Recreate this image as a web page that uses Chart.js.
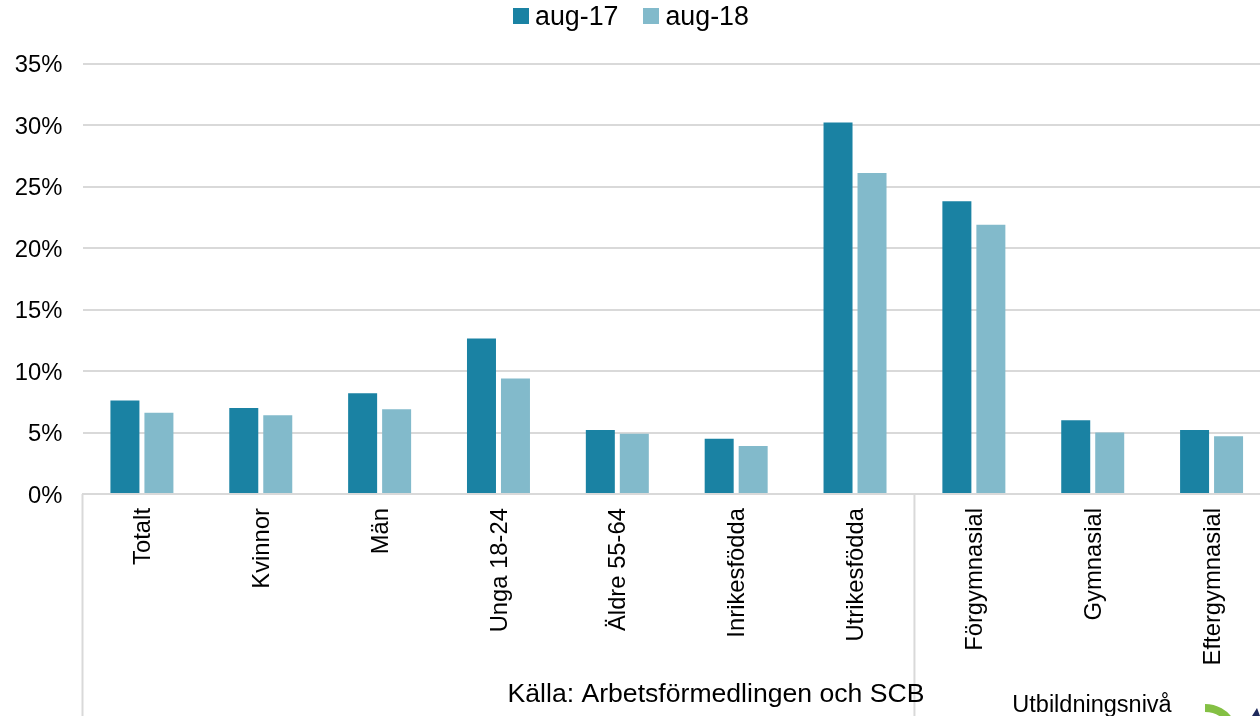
<!DOCTYPE html>
<html>
<head>
<meta charset="utf-8">
<script src="https://cdn.jsdelivr.net/npm/chart.js@4"></script>
<style>
    html, body { margin: 0; width: 1260px; height: 716px; overflow: hidden; background: #fff; }
    #wrap { position: relative; width: 1260px; height: 716px; overflow: hidden; }
    canvas { position: absolute; left: 0; top: 0; }
    #legend { position: absolute; top: 0; left: 513px; height: 32px; display: flex; align-items: center;
        font: 26.8px "Liberation Sans", Arial, sans-serif; color: #000; }
    #legend span.box { display: inline-block; width: 16px; height: 16px; margin-right: 6px; }
    #legend span.txt { margin-right: 25px; }
</style>
</head>
<body>
<div id="wrap">
    <canvas id="grafico" width="1271" height="716"></canvas>
    <div id="legend"></div>
</div>
<script>
// Data
const categorias = ['Totalt', 'Kvinnor', 'Män', 'Unga 18-24', 'Äldre 55-64', 'Inrikesfödda', 'Utrikesfödda', 'Förgymnasial', 'Gymnasial', 'Eftergymnasial'];
const aug17 = [7.6, 7.0, 8.2, 12.65, 5.2, 4.5, 30.2, 23.8, 6.0, 5.2];
const aug18 = [6.6, 6.4, 6.9, 9.4, 4.9, 3.9, 26.1, 21.9, 5.0, 4.7];
const ticksY = [0, 5, 10, 15, 20, 25, 30, 35];
const serieNomes = ['aug-17', 'aug-18'];

const corEscura = '#1a82a3';
const corClara = '#82bacb';
const corGrade = '#d9d9d9';
const familia = '"Liberation Sans", Arial, sans-serif';
const fonteEixo = { family: familia, size: 23.8 };

// Separators under the axis, source line and the cut-off logo at the bottom
const extras = {
    id: 'extras',
    afterDraw(chart) {
        const ctx = chart.ctx;
        const x = chart.scales.x;
        const passo = x.getPixelForValue(1) - x.getPixelForValue(0);
        const base = chart.scales.y.getPixelForValue(0);
        ctx.save();
        ctx.strokeStyle = corGrade;
        ctx.lineWidth = 2;
        [0, 7].forEach(i => {
            const px = x.getPixelForValue(i) - passo / 2;
            ctx.beginPath();
            ctx.moveTo(px, base);
            ctx.lineTo(px, 716);
            ctx.stroke();
        });
        ctx.fillStyle = '#000';
        ctx.textBaseline = 'alphabetic';
        ctx.textAlign = 'center';
        ctx.font = '26.6px ' + familia;
        ctx.fillText('Källa: Arbetsförmedlingen och SCB', 716, 702);
        ctx.font = '23.5px ' + familia;
        ctx.fillText('Utbildningsnivå', 1092, 712);
        // logo
        ctx.strokeStyle = '#84c044';
        ctx.lineWidth = 8;
        ctx.beginPath();
        ctx.arc(1205, 738, 30, -1.57, -0.55);
        ctx.stroke();
        ctx.fillStyle = '#1f2a5c';
        ctx.beginPath();
        ctx.moveTo(1252, 716);
        ctx.lineTo(1257, 708);
        ctx.lineTo(1260, 716);
        ctx.fill();
        ctx.restore();
    }
};

new Chart(document.getElementById('grafico'), {
    type: 'bar',
    data: {
        labels: categorias,
        datasets: [
            { label: serieNomes[0], data: aug17, backgroundColor: corEscura },
            { label: serieNomes[1], data: aug18, backgroundColor: corClara }
        ]
    },
    options: {
        responsive: false,
        animation: false,
        layout: { padding: { top: 63.5, left: 0, right: 0, bottom: 0 } },
        datasets: { bar: { categoryPercentage: 0.572, barPercentage: 0.853 } },
        plugins: { legend: { display: false }, tooltip: { enabled: false } },
        scales: {
            x: {
                grid: { display: false },
                border: { color: corGrade, width: 2 },
                afterFit(s) { s.height = 222; },
                ticks: { color: '#000', font: fonteEixo, minRotation: 90, maxRotation: 90, padding: 6, labelOffset: 1.5, autoSkip: false }
            },
            y: {
                min: 0,
                max: 35,
                afterFit(s) { s.width = 82.5; },
                afterBuildTicks(s) { s.ticks = ticksY.map(v => ({ value: v })); },
                grid: { color: corGrade, lineWidth: 2, drawTicks: false },
                border: { display: false },
                ticks: { color: '#000', font: fonteEixo, padding: 20, labelOffset: 2, callback: v => v + '%' }
            }
        }
    },
    plugins: [extras]
});

// Legend
const cores = [corEscura, corClara];
document.getElementById('legend').innerHTML = serieNomes
    .map((n, i) => '<span class="box" style="background:' + cores[i] + '"></span><span class="txt">' + n + '</span>')
    .join('');
</script>
</body>
</html>
